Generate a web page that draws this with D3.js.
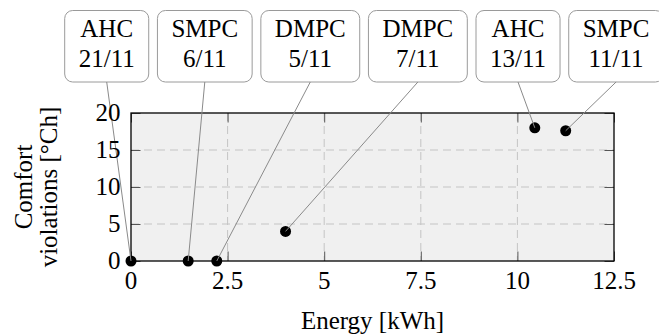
<!DOCTYPE html>
<html>
<head>
<meta charset="utf-8">
<script src="https://cdn.jsdelivr.net/npm/d3@7"></script>
</head>
<body style="margin:0;background:#fff;font-family:'Liberation Serif',serif">
<div id="wrap" style="position:relative;width:659px;height:335px;overflow:hidden">
<svg id="chart" width="659" height="335" style="position:absolute;left:0;top:0"></svg>
<div id="labels" style="position:absolute;left:0;top:0;width:659px;height:335px"></div>
</div>
<script>
// data
const methods = ["AHC", "SMPC", "DMPC", "DMPC", "AHC", "SMPC"];
const dates = ["21/11", "6/11", "5/11", "7/11", "13/11", "11/11"];
const energy = [0, 1.48, 2.22, 4.0, 10.45, 11.25];
const violations = [0, 0, 0, 4.0, 18.0, 17.6];
const xTicks = [0, 2.5, 5, 7.5, 10, 12.5];
const yTicks = [0, 5, 10, 15, 20];

const svg = d3.select("#chart");
const labels = d3.select("#labels");
const margin = { left: 131, right: 45, top: 113, bottom: 74 };
const width = 659 - margin.left - margin.right;
const height = 335 - margin.top - margin.bottom;
const tick = 9.5;
const ascent = 20.9; // baseline offset from top of a 25px line box

const x = d3.scaleLinear().domain([0, 12.5]).range([0, width]);
const y = d3.scaleLinear().domain([0, 20]).range([height, 0]);

// text helper: places text so that its baseline sits at by
function addText(parent, str, px, by, anchor) {
  const shift = anchor === "middle" ? "-50%" : anchor === "end" ? "-100%" : "0";
  return parent.append("span")
    .style("position", "absolute")
    .style("white-space", "nowrap")
    .style("font-family", "'Liberation Serif'", "important")
    .style("font-size", "25px")
    .style("line-height", "25px")
    .style("color", "#000")
    .style("left", px + "px").style("top", (by - ascent) + "px")
    .style("transform", `translateX(${shift})`)
    .text(str);
}

const plot = svg.append("g").attr("transform", `translate(${margin.left},${margin.top})`);

// background
plot.append("rect").attr("width", width).attr("height", height).attr("fill", "#f0f0f0");

// dashed grid
plot.append("g").selectAll("line").data(xTicks.slice(1, -1)).join("line")
  .attr("x1", d => x(d)).attr("x2", d => x(d))
  .attr("y1", 0).attr("y2", height)
  .attr("stroke", "#c4c4c4").attr("stroke-dasharray", "8,5");
plot.append("g").selectAll("line").data(yTicks.slice(1, -1)).join("line")
  .attr("y1", d => y(d)).attr("y2", d => y(d))
  .attr("x1", 0).attr("x2", width)
  .attr("stroke", "#c4c4c4").attr("stroke-dasharray", "8,5");

// axes, ticks pointing inside on all four sides
const styleAxis = g => {
  g.select(".domain").remove();
  g.selectAll(".tick line").attr("stroke", "#555");
  g.selectAll("text").remove();
};
plot.append("g").attr("transform", `translate(0,${height})`)
  .call(d3.axisBottom(x).tickValues(xTicks).tickSize(-tick)).call(styleAxis);
plot.append("g")
  .call(d3.axisTop(x).tickValues(xTicks).tickSize(-tick)).call(styleAxis);
plot.append("g")
  .call(d3.axisLeft(y).tickValues(yTicks).tickSize(-tick)).call(styleAxis);
plot.append("g").attr("transform", `translate(${width},0)`)
  .call(d3.axisRight(y).tickValues(yTicks).tickSize(-tick)).call(styleAxis);

// tick labels
xTicks.forEach(d => addText(labels, d, margin.left + x(d), margin.top + height + 28, "middle"));
yTicks.forEach(d => addText(labels, d, margin.left - 10.5, margin.top + y(d) + 8.3, "end"));

// frame
plot.append("rect").attr("width", width).attr("height", height)
  .attr("fill", "none").attr("stroke", "#000").attr("stroke-width", 1.3);

// label boxes laid out left to right
const boxTop = 10.5, boxHeight = 71.5, pad = 28, gap = 8.7;
const boxLayer = svg.append("g");
let left = 64.7;
const centers = [];
methods.forEach((m, i) => {
  const t1 = addText(labels, m, 0, 37.3, "middle");
  const t2 = addText(labels, dates[i], 0, 66.7, "middle");
  const w = Math.max(t1.node().getBoundingClientRect().width,
                     t2.node().getBoundingClientRect().width) + pad;
  const cx = left + w / 2;
  t1.style("left", cx + "px");
  t2.style("left", cx + "px");
  boxLayer.append("rect")
    .attr("x", left).attr("y", boxTop).attr("width", w).attr("height", boxHeight)
    .attr("rx", 8).attr("fill", "#fff").attr("stroke", "#9a9a9a").attr("stroke-width", 1);
  centers.push(cx);
  left += w + gap;
});

// connector lines
svg.append("g").selectAll("line").data(energy).join("line")
  .attr("x1", (d, i) => centers[i]).attr("y1", boxTop + boxHeight)
  .attr("x2", (d, i) => margin.left + x(d))
  .attr("y2", (d, i) => margin.top + y(violations[i]))
  .attr("stroke", "#8a8a8a").attr("stroke-width", 1);

// points
plot.append("g").selectAll("circle").data(energy).join("circle")
  .attr("cx", d => x(d)).attr("cy", (d, i) => y(violations[i]))
  .attr("r", 5.5).attr("fill", "#000");

// axis titles, y title rotated around its anchor
addText(labels, "Energy [kWh]", margin.left + width / 2, 329, "middle");
[["Comfort", 31.5], ["violations [°Ch]", 57]].forEach(([str, bx]) => {
  const holder = labels.append("div")
    .style("position", "absolute").style("left", bx + "px").style("top", "187px")
    .style("width", "0").style("height", "0")
    .style("transform-origin", "0 0").style("transform", "rotate(-90deg)");
  addText(holder, str, 0, 0, "middle");
});
</script>
</body>
</html>
